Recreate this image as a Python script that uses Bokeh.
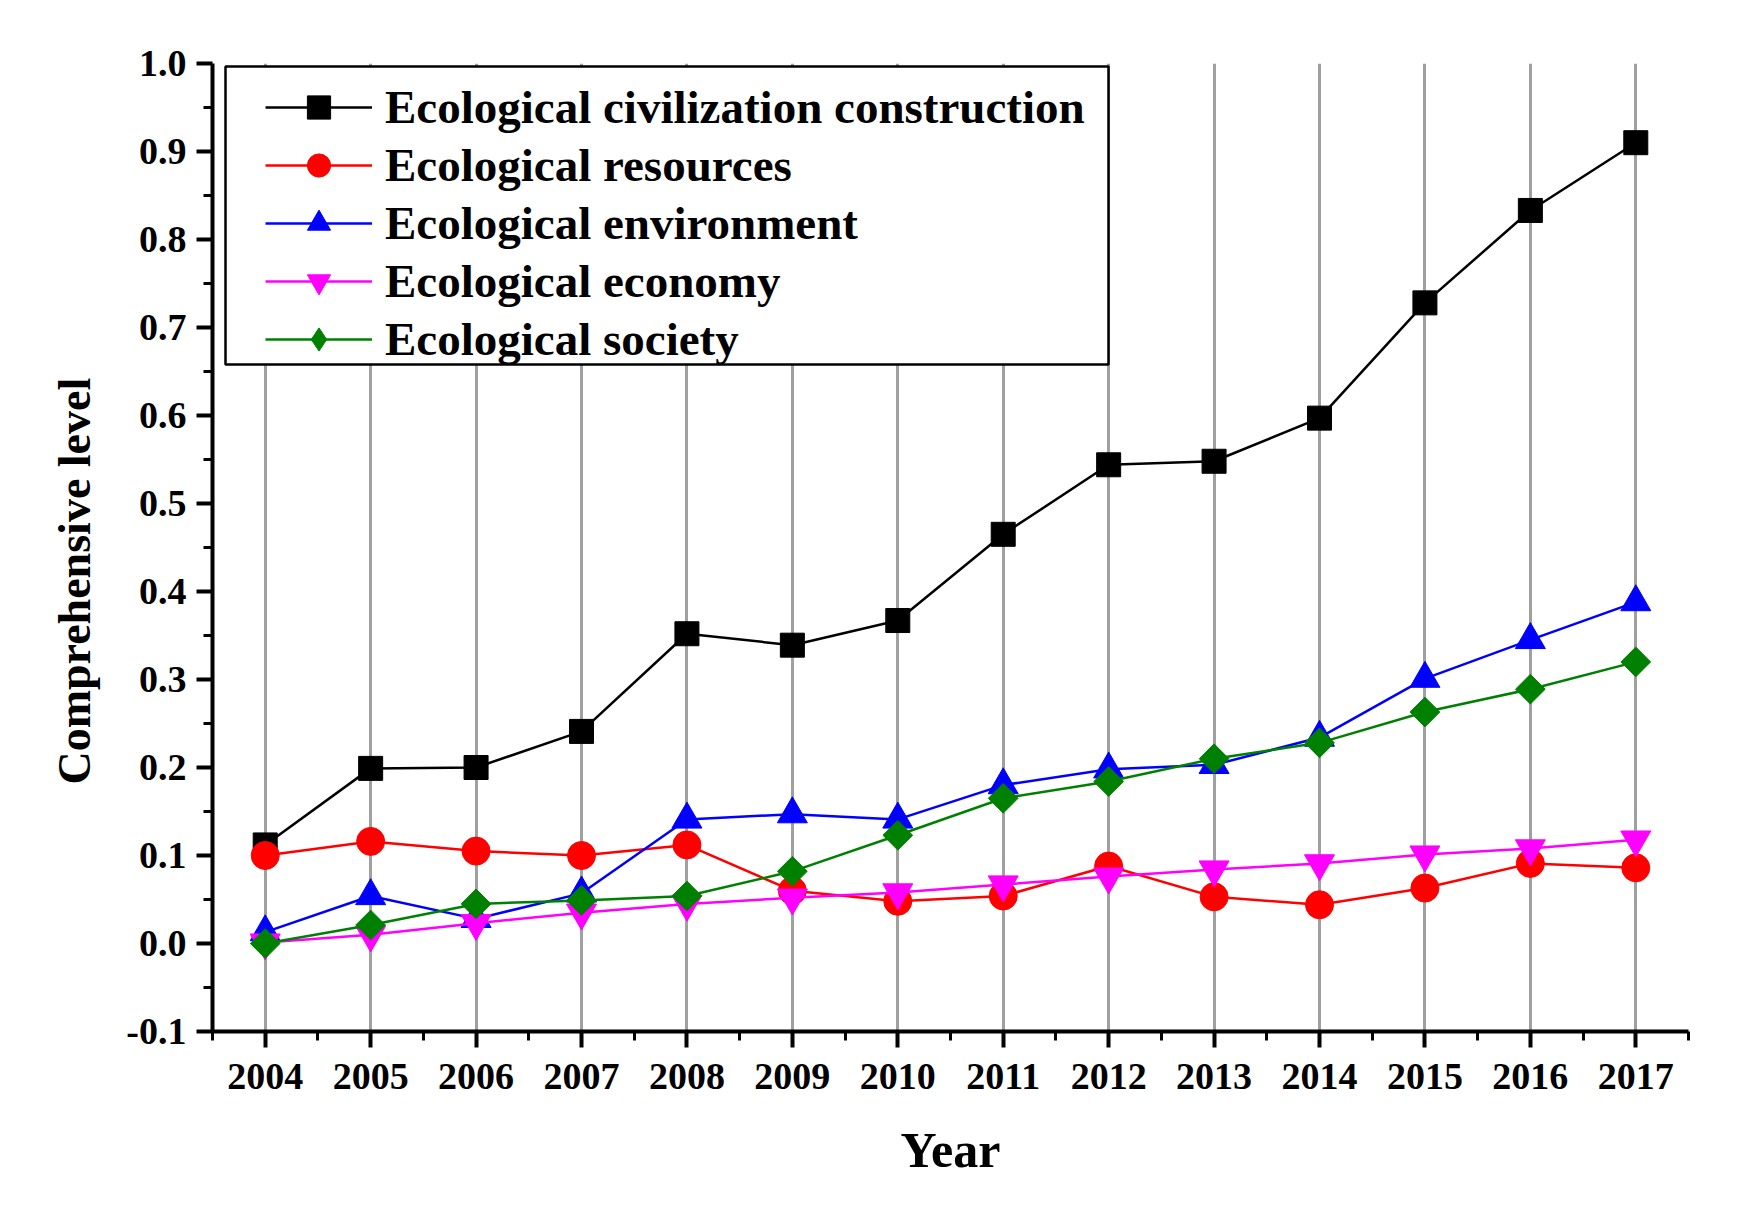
from bokeh.plotting import figure
from bokeh.models import (Range1d, FixedTicker, NumeralTickFormatter, Legend, LegendItem,
                          BoxAnnotation, Title)
from bokeh.embed import file_html
from bokeh.resources import INLINE
import math

years = [2004, 2005, 2006, 2007, 2008, 2009, 2010, 2011, 2012, 2013, 2014, 2015, 2016, 2017]
civilization = [0.112, 0.199, 0.200, 0.241, 0.352, 0.339, 0.367, 0.465, 0.544, 0.548, 0.597, 0.728, 0.833, 0.910]
resources = [0.100, 0.116, 0.105, 0.100, 0.112, 0.060, 0.048, 0.054, 0.088, 0.053, 0.044, 0.063, 0.091, 0.086]
environment = [0.013, 0.054, 0.028, 0.057, 0.141, 0.147, 0.141, 0.180, 0.198, 0.203, 0.234, 0.301, 0.345, 0.388]
economy = [0.001, 0.010, 0.023, 0.035, 0.045, 0.052, 0.058, 0.067, 0.076, 0.084, 0.091, 0.101, 0.108, 0.118]
society = [0.000, 0.021, 0.045, 0.049, 0.054, 0.082, 0.123, 0.165, 0.184, 0.210, 0.228, 0.263, 0.289, 0.320]

y_ticks = [-0.1, 0.0, 0.1, 0.2, 0.3, 0.4, 0.5, 0.6, 0.7, 0.8, 0.9, 1.0]
y_minor = [-0.05, 0.05, 0.15, 0.25, 0.35, 0.45, 0.55, 0.65, 0.75, 0.85, 0.95]
x_minor = [y + 0.5 for y in [2003] + years]

series = [
    ("Ecological civilization construction", civilization, "black", "square", 24, 0.0, "square"),
    ("Ecological resources", resources, "#ff0000", "circle", 28, 0.0, "circle"),
    ("Ecological environment", environment, "#0000ff", "triangle", 30, 0.0, "triangle"),
    ("Ecological economy", economy, "#ff00ff", "inverted_triangle", 30, 0.0, "inverted_triangle"),
    ("Ecological society", society, "#008000", "square", 21, math.pi / 4, "diamond"),
]

FONT = "Liberation Serif"

p = figure(width=1722, height=1197, output_backend="svg", toolbar_location=None,
           x_range=Range1d(2003.5, 2017.5), y_range=Range1d(-0.1, 1.0),
           min_border_left=212, min_border_right=34, min_border_top=63, min_border_bottom=166)
p.outline_line_color = None
p.background_fill_color = "white"
p.border_fill_color = "white"

xt = FixedTicker(ticks=years, minor_ticks=x_minor)
yt = FixedTicker(ticks=y_ticks, minor_ticks=y_minor)
p.xaxis.ticker = xt
p.yaxis.ticker = yt
p.xgrid.ticker = xt
p.xgrid.grid_line_color = "#a0a0a0"
p.xgrid.grid_line_width = 3
p.ygrid.visible = False
p.yaxis.formatter = NumeralTickFormatter(format="0.0")

for ax in (p.xaxis[0], p.yaxis[0]):
    ax.axis_line_width = 4
    ax.axis_line_color = "black"
    ax.major_tick_line_width = 4
    ax.major_tick_line_color = "black"
    ax.minor_tick_line_width = 3
    ax.minor_tick_line_color = "black"
    ax.major_tick_out = 16
    ax.major_tick_in = 0
    ax.minor_tick_out = 9
    ax.minor_tick_in = 0
    ax.major_label_text_font = FONT
    ax.major_label_text_font_style = "bold"
    ax.major_label_text_font_size = "38px"
    ax.major_label_text_color = "black"
    ax.axis_label_text_font = FONT
    ax.axis_label_text_font_style = "bold"
    ax.axis_label_text_font_size = "50px"
    ax.axis_label_text_color = "black"

p.xaxis.axis_label = "Year"
p.xaxis.major_label_standoff = 16
p.yaxis.major_label_standoff = 10
p.xaxis.axis_label_standoff = 30

# y-axis title, starting ~247px above the frame bottom as in the original
ytitle = Title(text="Comprehensive level", align="left", offset=247, standoff=46,
               text_font=FONT, text_font_style="bold", text_font_size="46px",
               text_color="black", vertical_align="middle")
p.add_layout(ytitle, "left")

# legend frame
box = BoxAnnotation(left=13, right=896, top=965, bottom=667,
                    left_units="screen", right_units="screen", top_units="screen", bottom_units="screen",
                    fill_color="white", fill_alpha=1.0, line_color="black", line_alpha=1.0, line_width=2.5)
p.add_layout(box)

items = []
for name, vals, color, marker, size, ang, leg_marker in series:
    lr = p.line(years, vals, line_color=color, line_width=2.5)
    if leg_marker != marker:
        # legend proxy: narrow diamond drawn beneath the (larger) plotted diamonds
        proxy = p.scatter(years, vals, marker=leg_marker, size=size - 2,
                          fill_color=color, line_color=color)
        sr = p.scatter(years, vals, marker=marker, size=size, angle=ang,
                       fill_color=color, line_color=color)
        items.append(LegendItem(label=name, renderers=[lr, proxy]))
    else:
        sr = p.scatter(years, vals, marker=marker, size=size, angle=ang,
                       fill_color=color, line_color=color)
        items.append(LegendItem(label=name, renderers=[lr, sr]))

legend = Legend(items=items, location=(53, 663))
legend.label_text_font = FONT
legend.label_text_font_style = "bold"
legend.label_text_font_size = "47px"
legend.label_text_color = "black"
legend.glyph_width = 107
legend.glyph_height = 58
legend.label_height = 58
legend.label_standoff = 13
legend.spacing = 0
legend.padding = 0
legend.margin = 0
legend.border_line_color = None
legend.background_fill_alpha = 0.0
p.add_layout(legend, "center")

open("out.html", "w").write(file_html(p, INLINE))
